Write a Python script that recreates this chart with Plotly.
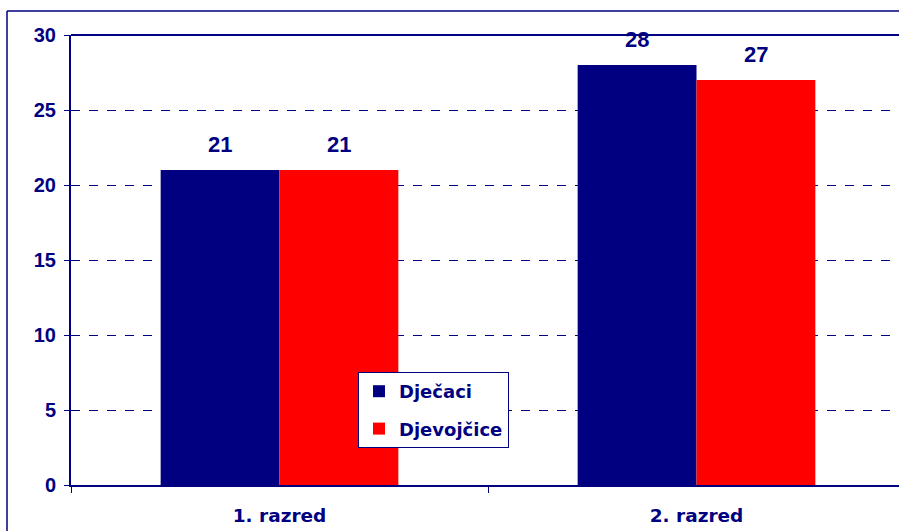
import plotly.graph_objects as go

categories = ["1. razred", "2. razred"]
series_names = ["Dječaci", "Djevojčice"]
boys = [21, 28]
girls = [21, 27]
y_ticks = [0, 5, 10, 15, 20, 25, 30]

NAVY = "#000080"
RED = "#FF0000"
FONT_NUM = "Arial, 'Liberation Sans', sans-serif"
FONT_TXT = "'DejaVu Sans', Verdana, sans-serif"

# The original chart is cropped on its right side: the figure is a little wider
# than the 899 px window and the overflow is hidden.
W, H = 910, 531
ML, MT, MB, MR = 71, 35, 46, 5
PW = W - ML - MR
PH = H - MT - MB
cat_px = PW / 2.0

fig = go.Figure()
for i, (name, vals, col) in enumerate([(series_names[0], boys, NAVY), (series_names[1], girls, RED)]):
    fig.add_trace(go.Bar(
        x=categories, y=vals, name=name, legendgroup=f"g{i}",
        marker=dict(color=col, line=dict(width=0)),
        hoverinfo="x+y+name",
    ))

bar_px = cat_px * (1 - 0.43) / 2
annotations = []
for vals, sh in [(boys, -bar_px / 2), (girls, bar_px / 2)]:
    for c, v in zip(categories, vals):
        annotations.append(dict(
            x=c, y=v, xref="x", yref="y", text=str(v), showarrow=False,
            xshift=sh, yshift=26,
            font=dict(family=FONT_NUM, size=22, color=NAVY, weight="bold"),
        ))

# outer chart border (left and top edges visible) and plot-area top edge
bx = (7 - ML) / PW
by = (H - MB - 11) / PH
shapes = [
    dict(type="line", xref="paper", yref="paper", x0=bx, x1=bx, y0=-1, y1=by,
         line=dict(color=NAVY, width=1.5)),
    dict(type="line", xref="paper", yref="paper", x0=bx, x1=1.0, y0=by, y1=by,
         line=dict(color=NAVY, width=1.5)),
    dict(type="line", xref="paper", yref="paper", x0=0, x1=1.0, y0=1, y1=1,
         line=dict(color=NAVY, width=2)),
]

fig.update_layout(
    width=W, height=H,
    margin=dict(l=ML, r=MR, t=MT, b=MB),
    paper_bgcolor="white", plot_bgcolor="white",
    barmode="group", bargap=0.43, bargroupgap=0,
    font=dict(family=FONT_NUM, color=NAVY, weight="bold"),
    showlegend=True,
    legend=dict(
        x=(358 - ML) / PW, y=(H - MB - 372) / PH, xanchor="left", yanchor="top",
        bordercolor=NAVY, borderwidth=1, bgcolor="white",
        font=dict(family=FONT_TXT, size=18, color=NAVY, weight="bold"),
        itemsizing="constant", tracegroupgap=11, itemwidth=30,
    ),
    annotations=annotations,
    shapes=shapes,
)
fig.update_xaxes(
    range=[-0.5, 1.5], type="category",
    showline=True, linecolor=NAVY, linewidth=2,
    ticks="outside", ticklen=6, tickcolor=NAVY, tickwidth=1,
    tickson="boundaries", showgrid=False,
    tickfont=dict(family=FONT_TXT, size=18.5, color=NAVY, weight="bold"),
    ticklabelstandoff=13,
)
fig.update_yaxes(
    range=[0, 30], tickvals=y_ticks,
    showline=True, linecolor=NAVY, linewidth=2,
    ticks="outside", ticklen=5, tickcolor=NAVY, tickwidth=1,
    showgrid=True, gridcolor=NAVY, griddash="dash", gridwidth=1,
    zeroline=False,
    tickfont=dict(family=FONT_NUM, size=20, color=NAVY, weight="bold"),
    ticklabelstandoff=4,
)

fig.write_html(
    "out.html",
    config={"displayModeBar": False},
    post_script=(
        "document.documentElement.style.overflow='hidden';"
        "document.body.style.margin='0';document.body.style.overflow='hidden';"
    ),
)
